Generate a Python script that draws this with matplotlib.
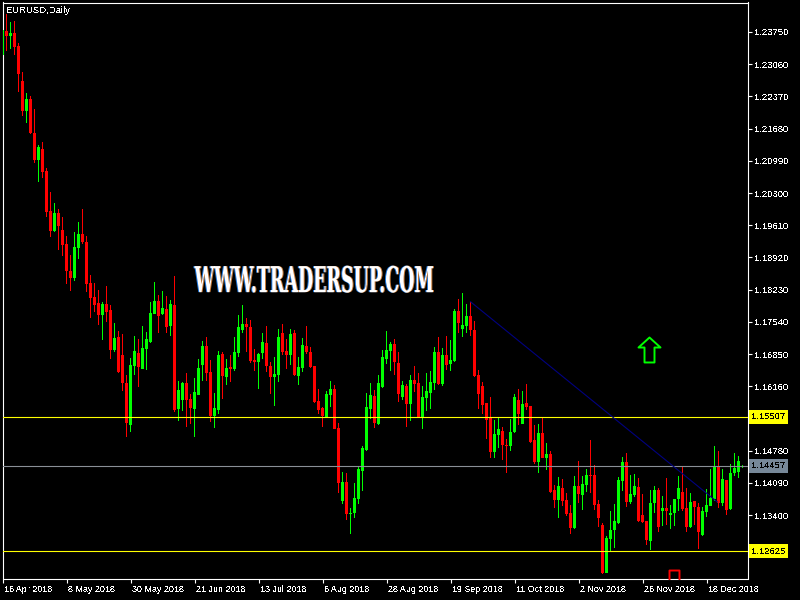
import numpy as np
import matplotlib
matplotlib.use('Agg')
import matplotlib.pyplot as plt
import matplotlib.patheffects as pe
from matplotlib.colors import to_rgba
from matplotlib.path import Path
from matplotlib.transforms import Affine2D, ScaledTranslation

# daily candles, prices in 1/10000
highs = [12379,12413,12396,12398,12351,12289,12244,12238,12210,12133,
         12139,12083,12032,12009,11996,11979,11938,11897,11947,11968,
         11996,11938,11854,11837,11822,11796,11830,11790,11751,11734,
         11727,11640,11676,11724,11717,11745,11732,11796,11839,11811,
         11820,11809,11801,11852,11627,11625,11644,11599,11633,11675,
         11713,11722,11672,11602,11691,11689,11675,11683,11722,11769,
         11790,11762,11758,11696,11687,11730,11745,11668,11679,11739,
         11749,11717,11739,11737,11679,11719,11745,11700,11659,11610,
         11571,11606,11627,11619,11537,11432,11430,11355,11409,11445,
         11487,11602,11623,11608,11640,11694,11734,11711,11717,11689,
         11627,11621,11640,11659,11644,11617,11644,11649,11700,11722,
         11698,11724,11715,11781,11803,11816,11792,11796,11756,11651,
         11625,11580,11593,11544,11550,11528,11503,11546,11599,11610,
         11606,11621,11574,11533,11535,11550,11494,11477,11405,11421,
         11417,11387,11361,11423,11455,11423,11439,11501,11447,11372,
         11323,11294,11349,11363,11421,11464,11473,11425,11428,11419,
         11385,11327,11394,11402,11398,11381,11419,11361,11374,11423,
         11443,11398,11387,11370,11365,11357,11396,11439,11487,11477,
         11439,11415,11450,11473,11466,11447]
lows = [12326,12334,12339,12326,12246,12195,12180,12157,12094,12054,
        12062,11979,11936,11947,11908,11895,11835,11820,11841,11889,
        11921,11818,11762,11775,11747,11715,11754,11675,11689,11644,
        11606,11507,11518,11640,11614,11653,11651,11709,11771,11729,
        11769,11730,11724,11561,11541,11563,11528,11535,11507,11597,
        11627,11627,11539,11526,11557,11589,11619,11625,11649,11679,
        11730,11689,11666,11649,11610,11675,11646,11599,11574,11625,
        11683,11653,11661,11638,11619,11646,11685,11655,11580,11557,
        11528,11548,11571,11524,11387,11363,11329,11299,11333,11363,
        11391,11477,11546,11526,11533,11612,11664,11649,11640,11582,
        11587,11528,11541,11604,11548,11524,11563,11567,11608,11619,
        11617,11651,11649,11668,11730,11722,11730,11724,11636,11567,
        11557,11503,11462,11462,11483,11458,11430,11477,11516,11533,
        11535,11565,11494,11450,11430,11462,11436,11387,11355,11333,
        11359,11338,11299,11310,11365,11351,11389,11387,11351,11314,
        11214,11216,11263,11269,11321,11391,11357,11363,11379,11325,
        11323,11276,11265,11344,11304,11316,11319,11310,11316,11349,
        11349,11304,11312,11319,11267,11294,11336,11359,11370,11355,
        11359,11340,11351,11423,11419,11441]
opens = [12326,12377,12366,12373,12345,12270,12206,12231,12159,12101,
         12124,12077,11991,11949,11987,11951,11921,11863,11848,11912,
         11942,11925,11837,11807,11794,11769,11792,11779,11694,11722,
         11683,11623,11533,11659,11687,11653,11696,11711,11771,11799,
         11771,11781,11745,11790,11567,11587,11623,11589,11567,11597,
         11661,11702,11646,11552,11565,11685,11636,11657,11653,11687,
         11737,11749,11743,11672,11668,11687,11709,11659,11636,11640,
         11729,11691,11683,11730,11638,11655,11702,11689,11659,11584,
         11569,11550,11597,11610,11526,11370,11411,11342,11344,11374,
         11434,11479,11567,11595,11535,11614,11675,11691,11707,11666,
         11593,11617,11578,11629,11623,11548,11591,11602,11623,11689,
         11621,11683,11664,11670,11777,11739,11745,11767,11737,11640,
         11617,11580,11548,11475,11511,11520,11490,11488,11518,11587,
         11535,11580,11574,11501,11453,11516,11462,11470,11394,11372,
         11398,11372,11344,11312,11402,11383,11405,11425,11425,11363,
         11319,11216,11289,11308,11323,11413,11453,11368,11383,11400,
         11340,11327,11284,11365,11394,11349,11355,11340,11344,11374,
         11389,11355,11314,11370,11357,11297,11346,11359,11374,11445,
         11365,11415,11353,11430,11432,11443]
closes = [12379,12366,12373,12343,12285,12206,12231,12159,12101,12129,
          12075,11989,11949,11987,11959,11919,11863,11848,11915,11942,
          11925,11835,11805,11790,11769,11792,11775,11694,11719,11646,
          11623,11537,11661,11691,11657,11698,11717,11773,11799,11767,
          11783,11743,11792,11565,11608,11623,11587,11569,11604,11655,
          11702,11644,11552,11569,11683,11638,11655,11653,11689,11743,
          11749,11743,11670,11668,11685,11711,11659,11636,11642,11722,
          11689,11683,11727,11640,11657,11704,11689,11657,11582,11565,
          11552,11599,11610,11524,11409,11411,11342,11344,11376,11439,
          11483,11571,11597,11537,11623,11679,11694,11707,11668,11599,
          11619,11578,11629,11621,11550,11593,11606,11625,11689,11621,
          11683,11661,11672,11777,11751,11747,11767,11737,11638,11599,
          11576,11544,11475,11514,11524,11490,11488,11518,11593,11557,
          11578,11571,11496,11453,11516,11462,11470,11389,11372,11402,
          11370,11342,11312,11402,11385,11407,11425,11423,11361,11333,
          11216,11290,11308,11327,11415,11453,11368,11385,11402,11327,
          11325,11287,11365,11394,11314,11355,11349,11344,11374,11398,
          11353,11314,11368,11357,11304,11349,11361,11376,11445,11365,
          11417,11351,11430,11441,11455,11445]

price_ticks = [1.23750, 1.23060, 1.22370, 1.21680, 1.20990, 1.20300, 1.19610, 1.18920, 1.18230,
               1.17540, 1.16850, 1.16160, 1.15470, 1.14780, 1.14090, 1.13400, 1.12710]
date_ticks = [0, 16, 32, 48, 64, 80, 96, 112, 128, 144, 160, 176]
date_labels = ['16 Apr 2018', '8 May 2018', '30 May 2018', '21 Jun 2018', '13 Jul 2018', '6 Aug 2018',
               '28 Aug 2018', '19 Sep 2018', '11 Oct 2018', '2 Nov 2018', '26 Nov 2018', '18 Dec 2018']

support_levels = [1.15507, 1.12625]
last_price = 1.14457
trend_x = [117, 178.7]
trend_y = [1.1797, 1.1368]
buy_arrow = (161.6, 1.1696)
sell_arrow = (167.75, 1.1194)

opens = np.array(opens) / 10000
closes = np.array(closes) / 10000
highs = np.array(highs) / 10000
lows = np.array(lows) / 10000
x = np.arange(len(opens))
up = closes >= opens
colors = np.where(up, '#00FF00', '#FF0000')


# no condensed slab font is installed, so squeeze the text sideways when it is drawn
class Squeeze(pe.AbstractPathEffect):
    def __init__(self, sx, cx, dx=0, color=None):
        super().__init__()
        self.sx = sx
        self.cx = cx
        self.dx = dx
        self.color = to_rgba(color) if color else None

    def draw_path(self, renderer, gc, tpath, affine, rgbFace=None):
        squeeze = Affine2D().translate(-self.cx, 0).scale(self.sx, 1).translate(self.cx + self.dx, 0)
        renderer.draw_path(gc, tpath, affine + squeeze, self.color if self.color else rgbFace)


plt.rcParams['font.family'] = ['Liberation Sans', 'DejaVu Sans']
plt.rcParams['text.antialiased'] = False

fig = plt.figure(figsize=(8, 6), dpi=100, facecolor='black')
ax = fig.add_axes([2.5 / 800, 1 - 578.5 / 600, 745 / 800, 576 / 600], facecolor='black')

# wicks as one pixel wide bars, thin lines came out washed out
ax.bar(x, highs - lows, bottom=lows, width=0.25, color=colors, antialiased=False, zorder=2)
ax.bar(x, np.abs(closes - opens), bottom=np.minimum(opens, closes), width=0.75, color=colors,
       antialiased=False, zorder=3)

for level in support_levels:
    ax.axhline(level, color='#FFFF00', linewidth=0.8, zorder=4)
ax.axhline(last_price, color='#8A8F96', linewidth=0.8, zorder=4)
ax.plot(trend_x, trend_y, color='#000080', linewidth=0.8, zorder=4)

# arrows are drawn as outlined custom markers
up_arrow = Path([(0, 12), (11, 2), (5, 2), (5, -13), (-5, -13), (-5, 2), (-11, 2), (0, 12)], closed=True)
down_arrow = Path([(0, -12), (11, -2), (5, -2), (5, 13), (-5, 13), (-5, -2), (-11, -2), (0, -12)], closed=True)
ax.plot(*buy_arrow, marker=up_arrow, markersize=18.7, markerfacecolor='none', markeredgecolor='#00FF00',
        markeredgewidth=1.4, zorder=5)
ax.plot(*sell_arrow, marker=down_arrow, markersize=18.7, markerfacecolor='none', markeredgecolor='#FF0000',
        markeredgewidth=1.4, zorder=5)

ax.set_xlim(0, 186.25)
ax.set_ylim(1.12040, 1.24382)

for spine in ax.spines.values():
    spine.set_color('white')
    spine.set_linewidth(0.8)

ax.yaxis.tick_right()
ax.set_yticks(price_ticks, [f'{p:.5f}' for p in price_ticks])
ax.tick_params(axis='y', colors='white', length=3, width=0.8, pad=2, labelsize=6.8)
ax.set_xticks(date_ticks, date_labels, ha='left')
ax.tick_params(axis='x', colors='white', length=3, width=0.8, pad=2, labelsize=6.4)
shift = ScaledTranslation(1 / 100, 0, fig.dpi_scale_trans)
for label in ax.get_xticklabels():
    label.set_transform(label.get_transform() + shift)

ybox = ax.get_yaxis_transform()
for level in support_levels:
    ax.text(1.005, level, f'{level:.5f}', transform=ybox, color='black', fontsize=6.8, va='center',
            clip_on=False, zorder=6, bbox=dict(boxstyle='square,pad=0.28', facecolor='#FFFF00', edgecolor='none'))
ax.text(1.005, last_price, f'{last_price:.5f}', transform=ybox, color='black', fontsize=6.8, va='center',
        clip_on=False, zorder=6, bbox=dict(boxstyle='square,pad=0.28', facecolor='#778899', edgecolor='none'))

ax.text(0.005, 0.9855, 'EURUSD,Daily', transform=ax.transAxes, color='white', fontsize=6.8, va='center', ha='left')

watermark = ax.text(0.418, 0.5145, 'WWW.TRADERSUP.COM', transform=ax.transAxes, color='white', fontsize=25.7,
                    family='DejaVu Serif', weight='bold', ha='center', va='center', zorder=7, antialiased=True)
watermark.set_path_effects([Squeeze(0.49, 314, dx=-1, color='#1E78E0'),
                            Squeeze(0.49, 314, dx=1, color='#C87832'),
                            Squeeze(0.49, 314)])

fig.savefig('out.png', dpi=100, facecolor='black')
